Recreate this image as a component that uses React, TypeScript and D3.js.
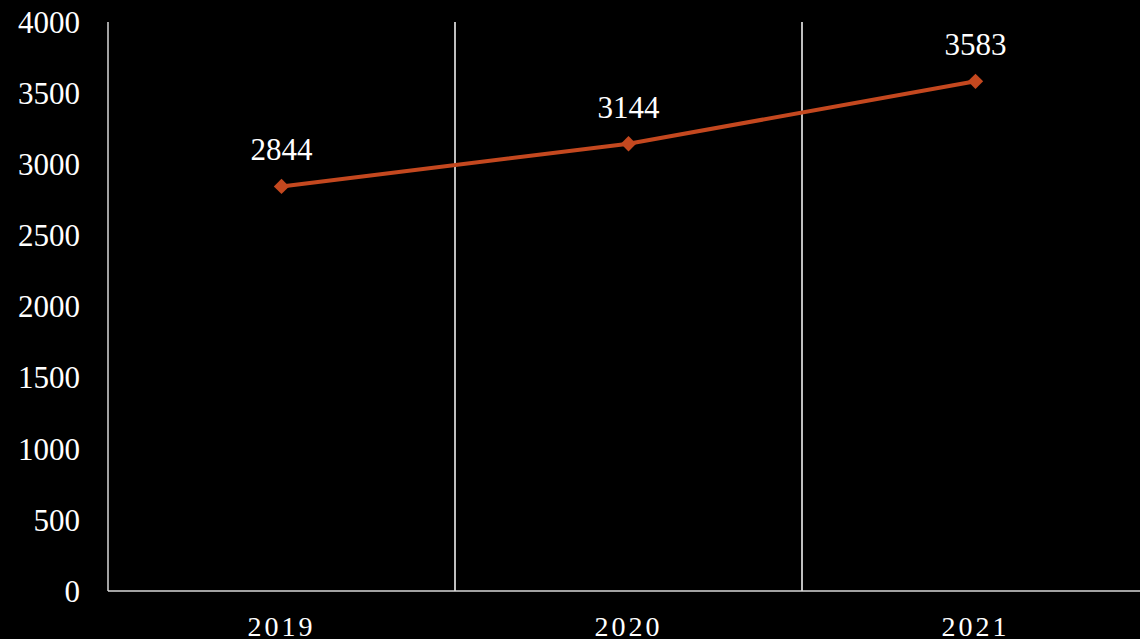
import React, { useRef, useEffect } from 'react'
import * as d3 from 'd3'

const years = ['2019', '2020', '2021']
const values = [2844, 3144, 3583]
const yTicks = [0, 500, 1000, 1500, 2000, 2500, 3000, 3500, 4000]

const W = 1140
const H = 639

export default function App() {
  const ref = useRef<SVGSVGElement>(null)

  useEffect(() => {
    const svg = d3.select(ref.current!)
    svg.selectAll('*').remove()

    const left = 108
    const top = 22
    const bottom = 591
    const bandW = 347

    const x = d3
      .scaleBand()
      .domain(years)
      .range([left, left + bandW * years.length])
    const y = d3.scaleLinear().domain([0, 4000]).range([bottom, top])

    svg.append('rect').attr('width', W).attr('height', H).attr('fill', '#000')

    // vertical separators between categories
    years.slice(1).forEach((yr) => {
      svg
        .append('line')
        .attr('x1', x(yr)!)
        .attr('x2', x(yr)!)
        .attr('y1', top)
        .attr('y2', bottom)
        .attr('stroke', '#fff')
        .attr('stroke-width', 1.5)
    })

    // axes lines
    svg
      .append('line')
      .attr('x1', left)
      .attr('x2', left)
      .attr('y1', top)
      .attr('y2', bottom)
      .attr('stroke', '#d9d9d9')
      .attr('stroke-width', 1.5)
    svg
      .append('line')
      .attr('x1', left)
      .attr('x2', W)
      .attr('y1', bottom)
      .attr('y2', bottom)
      .attr('stroke', '#d9d9d9')
      .attr('stroke-width', 1.5)

    const font = 'Liberation Serif, Times New Roman, serif'

    svg
      .selectAll('.ytick')
      .data(yTicks)
      .enter()
      .append('text')
      .attr('x', 80)
      .attr('y', (d) => y(d))
      .attr('dy', '0.35em')
      .attr('text-anchor', 'end')
      .attr('fill', '#fff')
      .attr('font-family', font)
      .attr('font-size', 31)
      .text((d) => d)

    svg
      .selectAll('.xtick')
      .data(years)
      .enter()
      .append('text')
      .attr('x', (d) => x(d)! + x.bandwidth() / 2)
      .attr('y', 636)
      .attr('text-anchor', 'middle')
      .attr('fill', '#fff')
      .attr('font-family', font)
      .attr('font-size', 28)
      .attr('letter-spacing', 3)
      .text((d) => d)

    const line = d3
      .line<number>()
      .x((d, i) => x(years[i])! + x.bandwidth() / 2)
      .y((d) => y(d))

    svg
      .append('path')
      .datum(values)
      .attr('fill', 'none')
      .attr('stroke', '#c4481f')
      .attr('stroke-width', 4)
      .attr('d', line)

    svg
      .selectAll('.marker')
      .data(values)
      .enter()
      .append('path')
      .attr('d', d3.symbol(d3.symbolDiamond2, 150)())
      .attr('transform', (d, i) => `translate(${x(years[i])! + x.bandwidth() / 2},${y(d)})`)
      .attr('fill', '#c4481f')

    svg
      .selectAll('.label')
      .data(values)
      .enter()
      .append('text')
      .attr('x', (d, i) => x(years[i])! + x.bandwidth() / 2)
      .attr('y', (d) => y(d) - 26)
      .attr('text-anchor', 'middle')
      .attr('fill', '#fff')
      .attr('font-family', font)
      .attr('font-size', 31)
      .text((d) => d)
  }, [])

  return (
    <svg
      ref={ref}
      width={W}
      height={H}
      style={{ position: 'absolute', left: 0, top: 0, display: 'block' }}
    />
  )
}
